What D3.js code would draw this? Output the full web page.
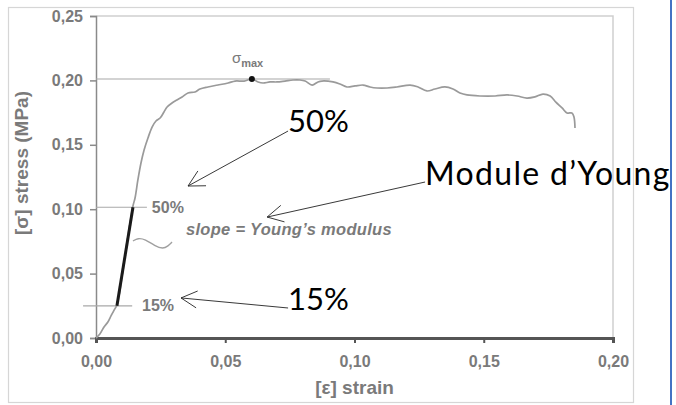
<!DOCTYPE html>
<html>
<head>
<meta charset="utf-8">
<script src="https://cdn.jsdelivr.net/npm/d3@7"></script>
<style>
  body { margin: 0; background: #fff; }
  svg { display: block; }
</style>
</head>
<body>
<svg id="chart" width="676" height="405"></svg>
<script>
// Compression test: stress-strain curve of a foam sample
const strain = [0, 0.0015, 0.0031, 0.0046, 0.0058, 0.0070, 0.0081, 0.0112, 0.0143, 0.0151,
  0.0162, 0.0174, 0.0186, 0.0201, 0.0217, 0.0232, 0.0248, 0.0263, 0.0275, 0.0294,
  0.0313, 0.0333, 0.0356, 0.0383, 0.0402, 0.0433, 0.0472, 0.0511, 0.0538, 0.0573,
  0.0603, 0.0627, 0.0646, 0.0673, 0.0700, 0.0731, 0.0762, 0.0789, 0.0809, 0.0836,
  0.0859, 0.0874, 0.0917, 0.0944, 0.0971, 0.1002, 0.1033, 0.1060, 0.1087, 0.1126,
  0.1164, 0.1215, 0.1246, 0.1280, 0.1311, 0.1350, 0.1381, 0.1408, 0.1435, 0.1485,
  0.1544, 0.1590, 0.1629, 0.1667, 0.1698, 0.1729, 0.1757, 0.1779, 0.1803, 0.1822,
  0.1841, 0.1849, 0.1853];
const stress = [0, 0.0031, 0.0085, 0.0124, 0.0171, 0.0217, 0.0256, 0.0637, 0.1025, 0.1087,
  0.1227, 0.1359, 0.1460, 0.1553, 0.1638, 0.1685, 0.1708, 0.1755, 0.1793, 0.1825,
  0.1848, 0.1871, 0.1902, 0.1910, 0.1933, 0.1949, 0.1964, 0.1980, 0.1995, 0.1995,
  0.2011, 0.1988, 0.1980, 0.1988, 0.1988, 0.1995, 0.2003, 0.2003, 0.1995, 0.1964,
  0.1988, 0.1995, 0.1988, 0.1972, 0.1949, 0.1957, 0.1964, 0.1949, 0.1941, 0.1941,
  0.1949, 0.1964, 0.1949, 0.1918, 0.1933, 0.1949, 0.1933, 0.1902, 0.1887, 0.1879,
  0.1879, 0.1887, 0.1879, 0.1863, 0.1872, 0.1894, 0.1879, 0.1832, 0.1786, 0.1747,
  0.1747, 0.1716, 0.1630];

// Maximum stress point
const sigmaMaxStrain = 0.0603;
const sigmaMaxStress = 0.2011;

// Levels used for the modulus fit (15 % and 50 % of sigma max)
const levelLabels = ["15%", "50%"];
const levelStress = [0.025, 0.1015];
const slopeStrain = [0.0081, 0.0143];

// Axis ticks
const xTicks = [0, 0.05, 0.10, 0.15, 0.20];
const yTicks = [0, 0.05, 0.10, 0.15, 0.20, 0.25];

// Callout arrows [tailStrain, tailStress, tipStrain, tipStress]
const calloutText = ["50%", "Module d\u2019Young", "15%"];
const calloutArrows = [
  [0.0743, 0.1607, 0.0356, 0.1180],
  [0.1273, 0.1211, 0.0662, 0.0939],
  [0.0743, 0.0233, 0.0329, 0.0311]
];

// Small wavy leader next to the slope caption
const leaderStrain = [0.0143, 0.0162, 0.0190, 0.0228, 0.0259, 0.0279, 0.0294];
const leaderStress = [0.0753, 0.0776, 0.0768, 0.0714, 0.0691, 0.0714, 0.0745];

const svg = d3.select("#chart");
const W = 676, H = 405;
const margin = { left: 96, right: 63, top: 16, bottom: 67 };

const x = d3.scaleLinear().domain([0, 0.2]).range([margin.left, W - margin.right]);
const y = d3.scaleLinear().domain([0, 0.25]).range([H - margin.bottom, margin.top]);

const locale = d3.formatLocale({ decimal: ",", thousands: " ", grouping: [3], currency: ["", "€"] });
const fmt = locale.format(".2f");

const grey = "#7a7a7a";
const tickFont = "'Liberation Sans', Arial, sans-serif";

// Outer frame of the figure
svg.append("rect")
  .attr("x", 8.5).attr("y", 7.5).attr("width", 625).attr("height", 395)
  .attr("fill", "none").attr("stroke", "#d6d6d6").attr("stroke-width", 1.2);

// Plot frame (top and right)
svg.append("path")
  .attr("d", `M${x(0)},${y(0.25)}H${x(0.2)}V${y(0)}`)
  .attr("fill", "none").attr("stroke", "#cfcfcf").attr("stroke-width", 1.5);

// Y axis
const yAxis = svg.append("g")
  .attr("transform", `translate(${x(0)},0)`)
  .call(d3.axisLeft(y).tickValues(yTicks).tickFormat(fmt).tickSize(6).tickPadding(7));
yAxis.select(".domain").attr("stroke", "#8a8a8a").attr("stroke-width", 1.5);
yAxis.selectAll(".tick line").attr("stroke", "#8a8a8a").attr("stroke-width", 1.5);
yAxis.selectAll(".tick text")
  .attr("fill", grey).attr("font-family", tickFont).attr("font-size", 16).attr("font-weight", "bold");

// X axis
const xAxis = svg.append("g")
  .attr("transform", `translate(0,${y(0)})`)
  .call(d3.axisBottom(x).tickValues(xTicks).tickFormat(fmt).tickSize(5).tickPadding(13));
xAxis.select(".domain").attr("stroke", "#555").attr("stroke-width", 3);
xAxis.selectAll(".tick line").attr("stroke", "#555").attr("stroke-width", 2);
xAxis.selectAll(".tick text")
  .attr("fill", grey).attr("font-family", tickFont).attr("font-size", 16).attr("font-weight", "bold");

// Axis titles
svg.append("text")
  .attr("transform", "translate(28,163) rotate(-90)")
  .attr("text-anchor", "middle")
  .attr("fill", grey).attr("font-family", tickFont).attr("font-size", 19).attr("font-weight", "bold")
  .text("[\u03c3] stress (MPa)");
svg.append("text")
  .attr("x", x(0.1)).attr("y", 394)
  .attr("text-anchor", "middle")
  .attr("fill", grey).attr("font-family", tickFont).attr("font-size", 19).attr("font-weight", "bold")
  .text("[\u03b5] strain");

// Sigma max reference line
svg.append("line")
  .attr("x1", x(0)).attr("x2", x(0.0905))
  .attr("y1", y(sigmaMaxStress)).attr("y2", y(sigmaMaxStress))
  .attr("stroke", "#a8a8a8").attr("stroke-width", 1.2);

// 15 % and 50 % reference lines
const levelStart = [-0.005, 0];
const levelEnd = [0.014, 0.0197];
levelStress.forEach((s, i) => {
  svg.append("line")
    .attr("x1", x(levelStart[i])).attr("x2", x(levelEnd[i]))
    .attr("y1", y(s)).attr("y2", y(s))
    .attr("stroke", "#a8a8a8").attr("stroke-width", 1.2);
});

// Stress-strain curve
const points = strain.map((e, i) => [e, stress[i]]);
svg.append("path")
  .datum(points)
  .attr("fill", "none")
  .attr("stroke", "#9a9a9a")
  .attr("stroke-width", 1.7)
  .attr("stroke-linejoin", "round")
  .attr("d", d3.line().x(d => x(d[0])).y(d => y(d[1])).curve(d3.curveCatmullRom.alpha(0.5)));

// Young's modulus slope
svg.append("line")
  .attr("x1", x(slopeStrain[0])).attr("y1", y(levelStress[0]))
  .attr("x2", x(slopeStrain[1])).attr("y2", y(levelStress[1]))
  .attr("stroke", "#1a1a1a").attr("stroke-width", 3);

// Leader for slope caption
svg.append("path")
  .datum(leaderStrain.map((e, i) => [e, leaderStress[i]]))
  .attr("fill", "none").attr("stroke", "#a0a0a0").attr("stroke-width", 1.4)
  .attr("d", d3.line().x(d => x(d[0])).y(d => y(d[1])).curve(d3.curveBasis));

// Sigma max marker and label
svg.append("circle")
  .attr("cx", x(sigmaMaxStrain)).attr("cy", y(sigmaMaxStress)).attr("r", 3)
  .attr("fill", "#111");
const smax = svg.append("text")
  .attr("x", x(sigmaMaxStrain) - 20).attr("y", y(sigmaMaxStress) - 16)
  .attr("fill", grey).attr("font-family", tickFont).attr("font-size", 15);
smax.append("tspan").text("\u03c3");
smax.append("tspan").attr("dy", 4).attr("font-size", 11).attr("font-weight", "bold").text("max");

// Level labels inside the plot
const levelLabelStrain = [0.0178, 0.0216];
levelLabels.forEach((t, i) => {
  svg.append("text")
    .attr("x", x(levelLabelStrain[i])).attr("y", y(levelStress[i]) + 5.5)
    .attr("fill", grey).attr("font-family", tickFont).attr("font-size", 16)
    .attr("font-weight", "bold")
    .text(t);
});

// Slope caption
svg.append("text")
  .attr("x", x(0.0348)).attr("y", y(0.0800))
  .attr("fill", grey).attr("font-family", tickFont).attr("font-size", 16.5)
  .attr("font-style", "italic").attr("font-weight", "bold").attr("letter-spacing", 0.3)
  .text("slope = Young\u2019s modulus");

// Callout arrows with open heads
const headLen = 18, headAngle = 28 * Math.PI / 180;
calloutArrows.forEach(a => {
  const tx = x(a[0]), ty = y(a[1]), hx = x(a[2]), hy = y(a[3]);
  const ang = Math.atan2(ty - hy, tx - hx);
  const b1 = [hx + headLen * Math.cos(ang + headAngle), hy + headLen * Math.sin(ang + headAngle)];
  const b2 = [hx + headLen * Math.cos(ang - headAngle), hy + headLen * Math.sin(ang - headAngle)];
  svg.append("path")
    .attr("d", `M${tx},${ty}L${hx},${hy}M${b1[0]},${b1[1]}L${hx},${hy}L${b2[0]},${b2[1]}`)
    .attr("fill", "none").attr("stroke", "#222").attr("stroke-width", 0.9);
});

// Callout texts
const calloutFont = "Lato, 'Open Sans', sans-serif";
const calloutPos = [[0.0743, 0.1600], [0.1273, 0.1185], [0.0743, 0.0220]];
const calloutSize = [31, 32, 31];
const calloutSpacing = [0, 1.3, 0];
calloutText.forEach((t, i) => {
  svg.append("text")
    .attr("x", x(calloutPos[i][0])).attr("y", y(calloutPos[i][1]))
    .attr("fill", "#000").attr("font-family", calloutFont)
    .attr("font-size", calloutSize[i]).attr("letter-spacing", calloutSpacing[i])
    .text(t);
});

// Blue vertical rule on the right edge
svg.append("line")
  .attr("x1", 671).attr("x2", 671).attr("y1", 0).attr("y2", H)
  .attr("stroke", "#4472c4").attr("stroke-width", 2);
</script>
</body>
</html>
